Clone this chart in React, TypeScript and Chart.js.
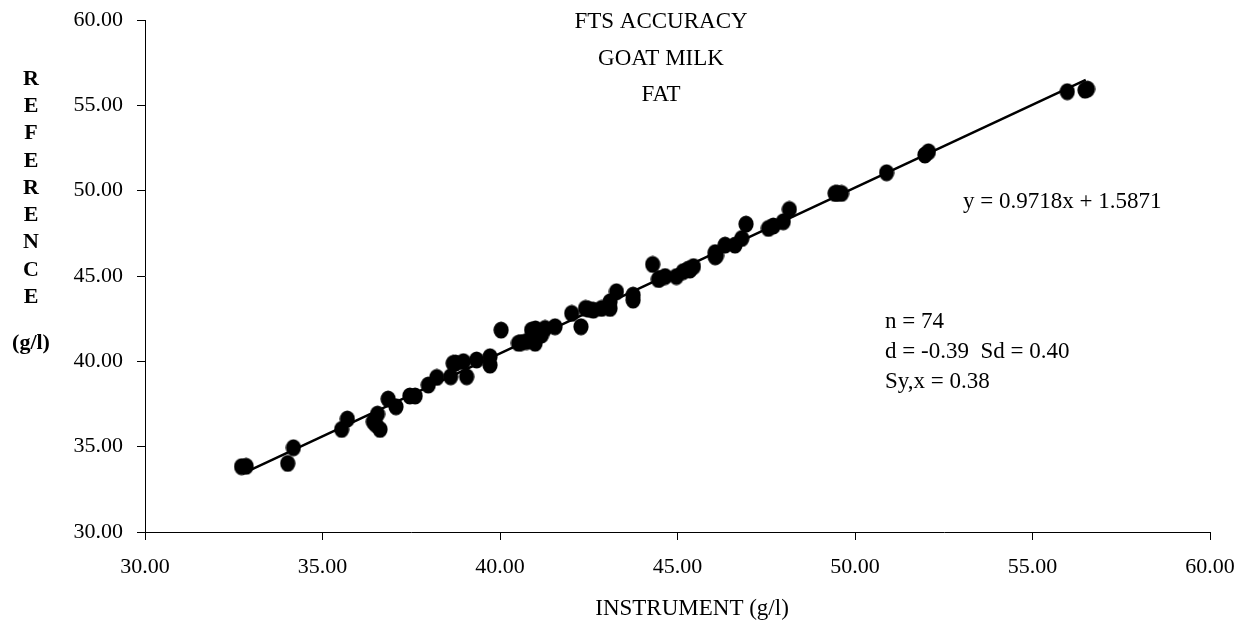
import React, { useEffect, useRef } from 'react';
import { Chart, registerables } from 'chart.js';

Chart.register(...registerables);

// Instrument readings (g/l)
const instrumentX = [
  32.72, 32.85, 34.02, 34.18, 35.54, 35.70, 36.43, 36.50, 36.62, 36.55,
  36.85, 37.07, 37.46, 37.61, 37.98, 38.22, 38.61, 38.68, 38.75, 38.97,
  39.06, 39.34, 39.72, 39.72, 40.03, 40.52, 40.60, 40.75, 40.89, 40.99,
  41.00, 41.17, 41.27, 41.55, 42.02, 42.28, 42.41, 42.50, 42.63, 42.86,
  43.10, 43.10, 43.28, 43.75, 43.75, 44.30, 44.46, 44.50, 44.65, 44.97,
  45.16, 45.30, 45.35, 45.45, 46.06, 46.06, 46.10, 46.34, 46.62, 46.81,
  46.93, 47.56, 47.70, 47.98, 48.15, 49.44, 49.50, 49.62, 50.89, 51.97,
  52.07, 55.98, 56.48, 56.55,
];
// Reference values (g/l)
const referenceY = [
  33.83, 33.85, 34.02, 34.94, 36.01, 36.62, 36.46, 36.30, 36.01, 36.91,
  37.79, 37.34, 37.97, 37.97, 38.61, 39.06, 39.10, 39.88, 39.90, 39.98,
  39.10, 40.08, 40.27, 39.78, 41.83, 41.06, 41.10, 41.16, 41.83, 41.06,
  41.90, 41.54, 41.93, 42.03, 42.81, 42.03, 43.10, 43.05, 43.00, 43.10,
  43.10, 43.49, 44.08, 43.88, 43.59, 45.68, 44.80, 44.85, 44.97, 44.97,
  45.26, 45.40, 45.35, 45.55, 46.13, 46.37, 46.20, 46.81, 46.81, 47.20,
  48.04, 47.79, 47.93, 48.18, 48.90, 49.84, 49.85, 49.84, 51.05, 52.09,
  52.28, 55.80, 55.89, 55.95,
];

// Regression line (from the printed equation)
const slope = 0.9718;
const intercept = 1.5871;
const trendX = [32.75, 56.5];

const axisMin = 30;
const axisMax = 60;
const axisStep = 5;

const titleLines = ['FTS ACCURACY', 'GOAT MILK', 'FAT'];
const yTitleLetters = ['R', 'E', 'F', 'E', 'R', 'E', 'N', 'C', 'E'];
const yTitleUnit = '(g/l)';
const xTitle = 'INSTRUMENT (g/l)';
const equationText = 'y = 0.9718x + 1.5871';
const statsLines = ['n = 74', 'd = -0.39  Sd = 0.40', 'Sy,x = 0.38'];

const FONT = "'Liberation Serif', 'Times New Roman', serif";
const TICK_FS = 22;
const TEXT_FS = 23;
const BOLD_FS = 22;

function makeMarker(): HTMLCanvasElement {
  const c = document.createElement('canvas');
  c.width = 16;
  c.height = 18;
  const g = c.getContext('2d')!;
  g.fillStyle = '#000';
  g.beginPath();
  g.ellipse(8, 9, 7.6, 8.6, 0, 0, Math.PI * 2);
  g.fill();
  return c;
}

const textPlugin = {
  id: 'textPlugin',
  afterDraw(chart: any) {
    const ctx = chart.ctx as CanvasRenderingContext2D;
    ctx.save();
    ctx.fillStyle = '#000';
    ctx.textBaseline = 'middle';
    ctx.font = `${TEXT_FS}px ${FONT}`;
    ctx.textAlign = 'center';
    titleLines.forEach((t, i) => ctx.fillText(t, 661, 22 + i * 36.5));
    ctx.fillText(xTitle, 692, 609);
    ctx.textAlign = 'left';
    ctx.fillText(equationText, 963, 202);
    statsLines.forEach((t, i) => ctx.fillText(t, 885, 322 + i * 30));
    ctx.font = `bold ${BOLD_FS}px ${FONT}`;
    ctx.textAlign = 'center';
    yTitleLetters.forEach((t, i) => ctx.fillText(t, 31, 79 + i * 27.3));
    ctx.fillText(yTitleUnit, 31, 343);
    ctx.restore();
  },
};

export default function App() {
  const ref = useRef<HTMLCanvasElement | null>(null);
  useEffect(() => {
    if (!ref.current) return;
    const marker = makeMarker();
    const points = instrumentX.map((x, i) => ({ x, y: referenceY[i] }));
    const trend = trendX.map((x) => ({ x, y: slope * x + intercept }));
    const tickFmt = (v: any) => Number(v).toFixed(2);
    const chart = new Chart(ref.current, {
      type: 'scatter',
      data: {
        datasets: [
          {
            label: 'FAT',
            data: points,
            pointStyle: marker as any,
            pointRadius: 8,
            backgroundColor: '#000',
            borderColor: '#000',
            order: 2,
          },
          {
            type: 'line',
            label: 'trend',
            data: trend,
            borderColor: '#000',
            borderWidth: 2.5,
            pointRadius: 0,
            fill: false,
            showLine: true,
            order: 1,
          } as any,
        ],
      },
      options: {
        animation: false,
        responsive: true,
        maintainAspectRatio: false,
        layout: { padding: { left: 0, right: 37, top: 20, bottom: 0 } },
        plugins: {
          legend: { display: false },
          tooltip: { enabled: false },
          title: { display: false },
        },
        scales: {
          x: {
            type: 'linear',
            min: axisMin,
            max: axisMax,
            border: { color: '#000', width: 1 },
            grid: { drawOnChartArea: false, drawTicks: true, tickLength: 8, color: '#000' },
            ticks: {
              stepSize: axisStep,
              color: '#000',
              font: { family: FONT, size: TICK_FS },
              padding: 14,
              maxRotation: 0,
              callback: tickFmt,
            },
            afterFit: (s: any) => {
              s.height = 93;
              s.paddingLeft = 0;
              s.paddingRight = 0;
            },
          },
          y: {
            type: 'linear',
            min: axisMin,
            max: axisMax,
            border: { color: '#000', width: 1 },
            grid: { drawOnChartArea: false, drawTicks: true, tickLength: 8, color: '#000' },
            ticks: {
              stepSize: axisStep,
              color: '#000',
              font: { family: FONT, size: TICK_FS },
              padding: 14,
              callback: tickFmt,
            },
            afterFit: (s: any) => {
              s.width = 145;
              s.paddingTop = 0;
              s.paddingBottom = 0;
            },
          },
        },
      },
      plugins: [textPlugin],
    });
    return () => chart.destroy();
  }, []);
  return (
    <div style={{ position: 'fixed', left: 0, top: 0, width: 1247, height: 625, background: '#fff' }}>
      <canvas ref={ref} />
    </div>
  );
}
